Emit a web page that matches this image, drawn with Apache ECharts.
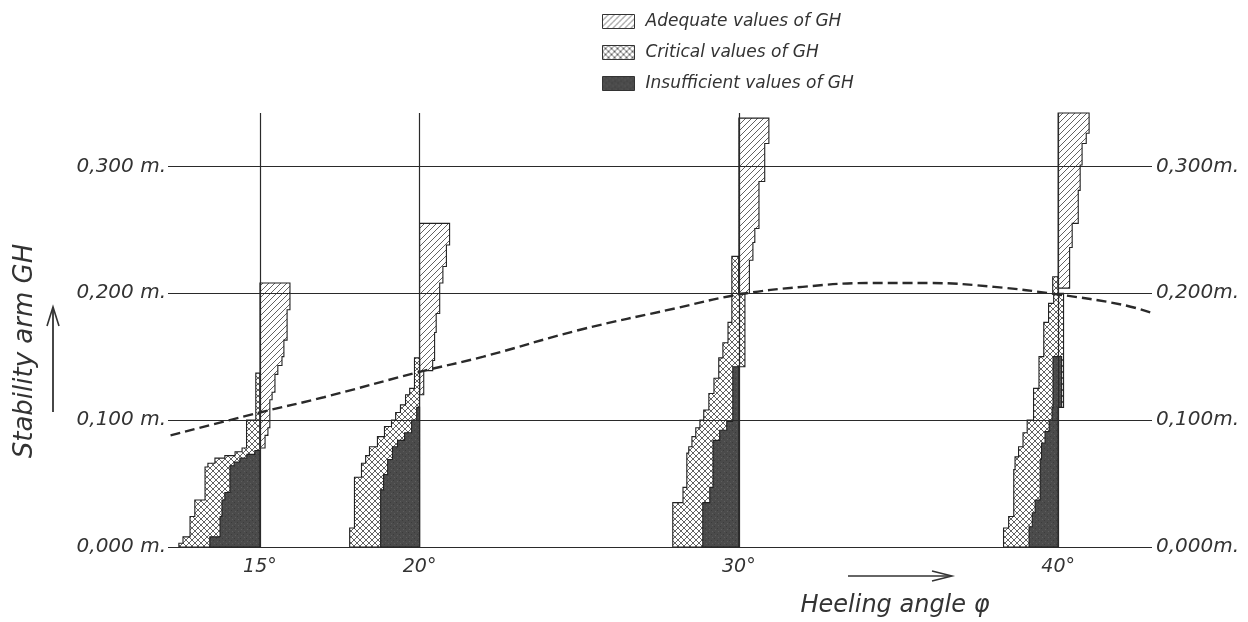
<!DOCTYPE html>
<html><head><meta charset="utf-8">
<script src="https://cdn.jsdelivr.net/npm/echarts@6/dist/echarts.min.js"></script>
<style>html,body{margin:0;padding:0;background:#fff}#c{width:1248px;height:622px}</style>
</head><body><div id="c"></div>
<script>
// Heeling angles (degrees) at which the distributions are drawn
const angles = [15, 20, 30, 40];
const ghTicks = [0, 0.1, 0.2, 0.3];
const seriesNames = ['Adequate values of GH', 'Critical values of GH', 'Insufficient values of GH'];

// Bands: [GH low (m), GH high (m), extent from (deg, relative to angle), extent to (deg, relative)]
const adequate15 = [[0.078,0.088,0,0.16],[0.088,0.094,0,0.25],[0.094,0.116,0,0.31],[0.116,0.122,0,0.38],[0.122,0.136,0,0.47],[0.136,0.143,0,0.56],[0.143,0.150,0,0.69],[0.150,0.163,0,0.75],[0.163,0.187,0,0.85],[0.187,0.208,0,0.94]];
const critical15 = [[0,0.003,-2.54,0],[0.003,0.008,-2.41,0],[0.008,0.024,-2.19,0],[0.024,0.037,-2.04,0],[0.037,0.063,-1.72,0],[0.063,0.066,-1.63,0],[0.066,0.070,-1.41,0],[0.070,0.072,-1.10,0],[0.072,0.075,-0.78,0],[0.075,0.078,-0.56,0],[0.078,0.100,-0.42,0],[0.100,0.137,-0.13,0]];
const insufficient15 = [[0,0.008,-1.57,0],[0.008,0.024,-1.25,0],[0.024,0.037,-1.19,0],[0.037,0.043,-1.10,0],[0.043,0.064,-0.94,0],[0.064,0.067,-0.81,0],[0.067,0.070,-0.63,0],[0.070,0.073,-0.41,0],[0.073,0.076,-0.16,0]];

const adequate20 = [[0.120,0.139,0,0.13],[0.139,0.147,0,0.41],[0.147,0.169,0,0.47],[0.169,0.184,0,0.52],[0.184,0.208,0,0.63],[0.208,0.221,0,0.73],[0.221,0.238,0,0.84],[0.238,0.255,0,0.94]];
const critical20 = [[0,0.015,-2.19,0],[0.015,0.055,-2.04,0],[0.055,0.066,-1.82,0],[0.066,0.072,-1.69,0],[0.072,0.079,-1.57,0],[0.079,0.087,-1.32,0],[0.087,0.095,-1.10,0],[0.095,0.100,-0.88,0],[0.100,0.106,-0.75,0],[0.106,0.112,-0.60,0],[0.112,0.120,-0.44,0],[0.120,0.125,-0.31,0],[0.125,0.149,-0.16,0]];
const insufficient20 = [[0,0.045,-1.22,0],[0.045,0.057,-1.13,0],[0.057,0.069,-1.00,0],[0.069,0.079,-0.85,0],[0.079,0.084,-0.69,0],[0.084,0.090,-0.47,0],[0.090,0.100,-0.25,0],[0.100,0.110,-0.09,0]];

const adequate30 = [[0.200,0.226,0,0.33],[0.226,0.240,0,0.44],[0.240,0.251,0,0.50],[0.251,0.288,0,0.63],[0.288,0.318,0,0.81],[0.318,0.338,0,0.94]];
const critical30 = [[0,0.035,-2.07,0],[0.035,0.047,-1.75,0],[0.047,0.074,-1.63,0],[0.074,0.079,-1.57,0],[0.079,0.087,-1.47,0],[0.087,0.094,-1.35,0],[0.094,0.100,-1.22,0],[0.100,0.108,-1.10,0],[0.108,0.121,-0.94,0],[0.121,0.133,-0.78,0],[0.133,0.142,-0.63,0],[0.142,0.149,-0.63,0.19],[0.149,0.161,-0.50,0.19],[0.161,0.177,-0.34,0.19],[0.177,0.200,-0.22,0.19],[0.200,0.229,-0.22,0]];
const insufficient30 = [[0,0.035,-1.13,0],[0.035,0.047,-0.91,0],[0.047,0.084,-0.81,0],[0.084,0.092,-0.60,0],[0.092,0.099,-0.38,0],[0.099,0.142,-0.19,0]];

const adequate40 = [[0.204,0.236,0,0.36],[0.236,0.255,0,0.44],[0.255,0.281,0,0.63],[0.281,0.301,0,0.69],[0.301,0.318,0,0.75],[0.318,0.326,0,0.88],[0.326,0.342,0,0.97]];
const critical40 = [[0,0.015,-1.71,0],[0.015,0.024,-1.55,0],[0.024,0.061,-1.39,0],[0.061,0.071,-1.35,0],[0.071,0.079,-1.24,0],[0.079,0.090,-1.10,0],[0.090,0.100,-0.97,0],[0.100,0.110,-0.77,0],[0.110,0.125,-0.77,0.17],[0.125,0.150,-0.60,0.17],[0.150,0.177,-0.45,0.17],[0.177,0.192,-0.30,0.17],[0.192,0.200,-0.14,0.17],[0.200,0.213,-0.17,0]];
const insufficient40 = [[0,0.016,-0.91,0],[0.016,0.027,-0.81,0],[0.027,0.037,-0.72,0],[0.037,0.069,-0.56,0],[0.069,0.082,-0.52,0],[0.082,0.091,-0.41,0],[0.091,0.100,-0.28,0],[0.100,0.110,-0.19,0],[0.110,0.150,-0.16,0.11]];

// Dashed limit curve
const curveAngles = [12.2, 15, 17, 20, 22, 25, 28, 30, 32, 34, 36, 38, 40, 42, 43];
const curveGH = [0.088, 0.106, 0.118, 0.138, 0.150, 0.171, 0.188, 0.199, 0.205, 0.208, 0.208, 0.205, 0.199, 0.191, 0.184];

const adequateSets = [adequate15, adequate20, adequate30, adequate40];
const criticalSets = [critical15, critical20, critical30, critical40];
const insufficientSets = [insufficient15, insufficient20, insufficient30, insufficient40];

function makePattern(kind) {
  const s = 6;
  const c = document.createElement('canvas');
  c.width = s; c.height = s;
  const g = c.getContext('2d');
  if (kind === 'dark') {
    g.fillStyle = '#4b4b4b'; g.fillRect(0, 0, s, s);
    g.fillStyle = '#5e5e5e'; g.fillRect(1, 1, 1, 1); g.fillRect(4, 3, 1, 1);
    g.fillStyle = '#3c3c3c'; g.fillRect(3, 0, 1, 1); g.fillRect(0, 4, 1, 1);
    return { image: c, repeat: 'repeat' };
  }
  g.strokeStyle = '#3a3a3a'; g.lineWidth = 0.8;
  g.beginPath();
  g.moveTo(0, s); g.lineTo(s, 0);
  g.moveTo(-s, s); g.lineTo(s, -s);
  g.moveTo(0, 2 * s); g.lineTo(2 * s, 0);
  if (kind === 'cross') {
    g.moveTo(0, 0); g.lineTo(s, s);
    g.moveTo(-s, 0); g.lineTo(s, 2 * s);
    g.moveTo(0, -s); g.lineTo(2 * s, s);
  }
  g.stroke();
  return { image: c, repeat: 'repeat' };
}
const fills = [makePattern('hatch'), makePattern('cross'), makePattern('dark')];

function makeRender(sets, fill) {
  return function (params, api) {
    const a = api.value(0);
    const bands = sets[api.value(1)];
    const left = [], right = [];
    bands.forEach(function (b) {
      left.push(api.coord([a + b[2], b[0]]), api.coord([a + b[2], b[1]]));
      right.unshift(api.coord([a + b[3], b[0]]));
      right.unshift(api.coord([a + b[3], b[1]]));
    });
    return {
      type: 'polygon',
      shape: { points: left.concat(right) },
      style: { fill: fill, stroke: '#222', lineWidth: 1.1 }
    };
  };
}

const font = 'DejaVu Sans';
const labelStyle = { fontFamily: font, fontStyle: 'italic', fontSize: 20, color: '#333' };
function ghLabel(sep) {
  return function (v) {
    if (Math.abs(v * 10 - Math.round(v * 10)) > 1e-6) return '';
    return v.toFixed(3).replace('.', ',') + sep + 'm.';
  };
}

const xMin = 12.12, xMax = 42.94;
const chart = echarts.init(document.getElementById('c'));
chart.setOption({
  backgroundColor: '#fff',
  animation: false,
  grid: { left: 168, right: 96, top: 113, bottom: 75, containLabel: false },
  legend: {
    data: seriesNames,
    orient: 'vertical', left: 597, top: 8,
    icon: 'rect', itemWidth: 32, itemHeight: 14, itemGap: 14,
    textStyle: { fontFamily: font, fontStyle: 'italic', fontSize: 17, color: '#333', padding: [0, 0, 0, 6] },
    itemStyle: { borderColor: '#333', borderWidth: 1 }
  },
  xAxis: {
    type: 'value', min: xMin, max: xMax,
    axisLine: { show: false }, axisTick: { show: false }, splitLine: { show: false },
    axisLabel: Object.assign({}, labelStyle, { customValues: angles, margin: 11, fontSize: 19, formatter: function (v) { return v + '°'; } })
  },
  yAxis: [
    { type: 'value', min: 0, max: 0.342, interval: 0.1, position: 'left',
      axisLine: { show: false }, axisTick: { show: false }, splitLine: { show: false },
      axisLabel: Object.assign({ margin: 2, formatter: ghLabel(' ') }, labelStyle) },
    { type: 'value', min: 0, max: 0.342, interval: 0.1, position: 'right',
      axisLine: { show: false }, axisTick: { show: false }, splitLine: { show: false },
      axisLabel: Object.assign({ margin: 4, formatter: ghLabel('') }, labelStyle) }
  ],
  series: [
    {
      name: 'grid', type: 'line', data: [], z: 1, silent: true,
      markLine: {
        silent: true, symbol: ['none', 'none'], label: { show: false },
        lineStyle: { color: '#2a2a2a', width: 1.2, type: 'solid' },
        data: ghTicks.map(function (v) { return { yAxis: v }; })
          .concat(angles.map(function (a) { return { xAxis: a }; }))
      }
    },
    { name: seriesNames[0], type: 'custom', z: 2, itemStyle: { color: fills[0], borderColor: '#222', borderWidth: 1 },
      data: angles.map(function (a, i) { return [a, i]; }), renderItem: makeRender(adequateSets, fills[0]) },
    { name: seriesNames[1], type: 'custom', z: 2, itemStyle: { color: fills[1], borderColor: '#222', borderWidth: 1 },
      data: angles.map(function (a, i) { return [a, i]; }), renderItem: makeRender(criticalSets, fills[1]) },
    { name: seriesNames[2], type: 'custom', z: 3, itemStyle: { color: fills[2], borderColor: '#222', borderWidth: 1 },
      data: angles.map(function (a, i) { return [a, i]; }), renderItem: makeRender(insufficientSets, fills[2]) },
    {
      name: 'limit', type: 'line', z: 4, smooth: 0.4, symbol: 'none', silent: true,
      lineStyle: { color: '#2a2a2a', width: 2.4, type: [10, 5] },
      data: curveAngles.map(function (a, i) { return [a, curveGH[i]]; })
    }
  ],
  graphic: [
    { type: 'text', x: 25, y: 351, rotation: Math.PI / 2,
      style: { text: 'Stability arm GH', font: 'italic 26px "DejaVu Sans"', fill: '#333', align: 'center', verticalAlign: 'middle' } },
    { type: 'line', shape: { x1: 53, y1: 412, x2: 53, y2: 309 }, style: { stroke: '#333', lineWidth: 1.8 } },
    { type: 'polyline', shape: { points: [[47, 326], [53, 307], [59, 326]] }, style: { stroke: '#333', lineWidth: 1.6, fill: null } },
    { type: 'text', x: 895, y: 606,
      style: { text: 'Heeling angle φ', font: 'italic 24px "DejaVu Sans"', fill: '#333', align: 'center', verticalAlign: 'middle' } },
    { type: 'line', shape: { x1: 848, y1: 576, x2: 950, y2: 576 }, style: { stroke: '#333', lineWidth: 1.6 } },
    { type: 'polyline', shape: { points: [[932, 571], [952, 576], [932, 581]] }, style: { stroke: '#333', lineWidth: 1.5, fill: null } }
  ]
});
</script>
</body></html>
